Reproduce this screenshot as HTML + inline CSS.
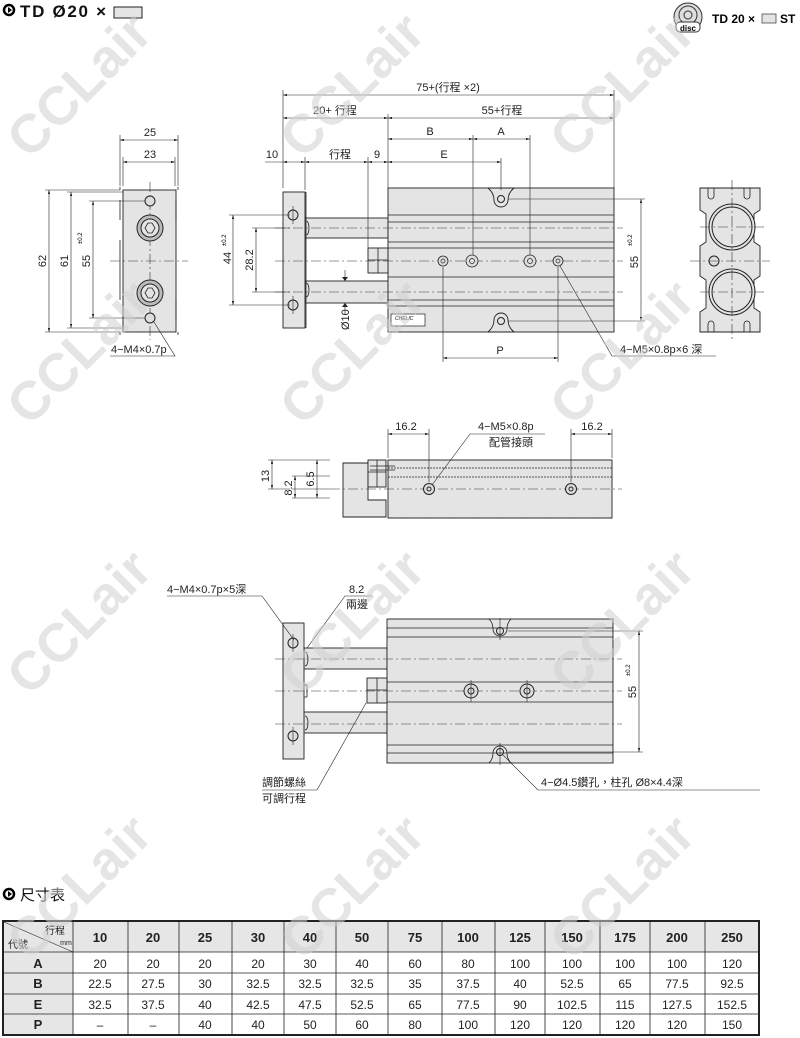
<!DOCTYPE html>
<html><head><meta charset="utf-8"><style>
body{margin:0;background:#fff;}
svg{display:block;font-family:"Liberation Sans","Noto Sans CJK TC",sans-serif;}
</style></head><body>
<svg width="800" height="1038" viewBox="0 0 800 1038" xmlns="http://www.w3.org/2000/svg">
<defs>
<marker id="a" viewBox="0 0 10 6" refX="10" refY="3" markerWidth="8" markerHeight="4" orient="auto-start-reverse"><path d="M0,0L10,3L0,6z" fill="#222"/></marker>
</defs>
<style>
.l{stroke:#222;stroke-width:0.8;fill:none}
.d{stroke:#222;stroke-width:0.6;fill:none}
.c{stroke:#333;stroke-width:0.6;fill:none;stroke-dasharray:10 3 2 3}
.b{fill:#e4e4e4;stroke:#222;stroke-width:0.9}
.t{font-size:11px;fill:#222}
.dm{stroke:#222;stroke-width:0.6;fill:none;marker-start:url(#a);marker-end:url(#a)}
</style>

<!-- header -->
<circle cx="9" cy="10" r="5" fill="none" stroke="#000" stroke-width="2.5"/>
<path d="M8,7 L12,10 L8,13z" fill="#000"/>
<text x="20" y="17" font-size="17" font-weight="bold" fill="#111" textLength="86">TD Ø20 ×</text>
<rect x="114" y="7" width="28" height="11" fill="#e4e4e4" stroke="#222"/>
<circle cx="688" cy="17" r="14" fill="#ddd" stroke="#333"/>
<circle cx="688" cy="15" r="9" fill="none" stroke="#333"/>
<circle cx="688" cy="15" r="4" fill="none" stroke="#333"/>
<rect x="676" y="22" width="24" height="10" rx="4" fill="#fff" stroke="#333"/>
<text x="688" y="31" font-size="8" text-anchor="middle" font-weight="bold">disc</text>
<text x="712" y="23" font-size="12" font-weight="bold">TD 20 ×</text>
<rect x="762" y="14" width="14" height="9" fill="#e4e4e4" stroke="#333" stroke-width="0.7"/>
<text x="780" y="23" font-size="12" font-weight="bold">ST</text>

<!-- LEFT END VIEW -->
<rect class="b" x="123" y="190" width="53" height="142"/>
<path class="l" d="M120,190v-3M178,190v-3M120,332v3M178,332v3M120,200v20M120,240v60M176,200v20M176,300v20"/>
<line class="c" x1="150" y1="182" x2="150" y2="340"/>
<line class="c" x1="110" y1="261" x2="188" y2="261"/>
<circle cx="150" cy="201" r="5" fill="#ddd" stroke="#222"/>
<circle cx="150" cy="318" r="5" fill="#ddd" stroke="#222"/>
<circle cx="150" cy="228" r="13" fill="#bbb" stroke="#222"/><circle cx="150" cy="228" r="9" fill="#e4e4e4" stroke="#222"/>
<path class="l" d="M145,228l3,-5h4l3,5l-3,5h-4z"/>
<circle cx="150" cy="293" r="13" fill="#bbb" stroke="#222"/><circle cx="150" cy="293" r="9" fill="#e4e4e4" stroke="#222"/>
<path class="l" d="M145,293l3,-5h4l3,5l-3,5h-4z"/>
<path class="d" d="M120,186V135M178,186V135M123,186V157M175,186V157"/>
<line class="dm" x1="120" y1="140" x2="178" y2="140"/>
<line class="dm" x1="123" y1="162" x2="175" y2="162"/>
<text class="t" x="150" y="136" text-anchor="middle">25</text>
<text class="t" x="150" y="158" text-anchor="middle">23</text>
<path class="d" d="M45,190H120M67,192H123M89,201H145M45,332H120M67,328H123M89,318H145"/>
<line class="dm" x1="49" y1="190" x2="49" y2="332"/>
<line class="dm" x1="71" y1="192" x2="71" y2="328"/>
<line class="dm" x1="93" y1="201" x2="93" y2="318"/>
<text class="t" transform="translate(46,261) rotate(-90)" text-anchor="middle">62</text>
<text class="t" transform="translate(68,261) rotate(-90)" text-anchor="middle">61</text>
<text class="t" transform="translate(90,261) rotate(-90)" text-anchor="middle">55</text>
<text transform="translate(82,244) rotate(-90)" font-size="6">±0.2</text>
<path class="d" d="M110,356H175L154,322"/>
<text class="t" x="111" y="353">4−M4×0.7p</text>

<!-- MAIN SIDE VIEW -->
<rect class="b" x="305" y="218" width="83" height="20"/>
<rect class="b" x="305" y="281" width="83" height="22"/>
<rect class="b" x="388" y="188" width="226" height="144"/>
<path class="l" d="M388,215H614M388,222H614M388,242H614M388,248H614M388,277H614M388,300H614M388,306H614"/>
<rect class="b" x="283" y="192" width="22" height="136"/>
<line class="l" x1="306" y1="192" x2="306" y2="328"/>
<rect class="b" x="368" y="248" width="20" height="25"/>
<path class="l" d="M378,248v25M368,260h20"/>
<path class="l" d="M306,221c4,0 4,14 0,14M306,283c4,0 4,14 0,14"/>
<line class="c" x1="275" y1="228" x2="623" y2="228"/>
<line class="c" x1="275" y1="261" x2="623" y2="261"/>
<line class="c" x1="275" y1="292" x2="623" y2="292"/>
<circle cx="293" cy="215" r="5" fill="#ddd" stroke="#222"/>
<circle cx="293" cy="305" r="5" fill="#ddd" stroke="#222"/>
<path class="d" d="M293,206v18M293,296v18"/>
<g fill="#ddd" stroke="#222" stroke-width="0.8">
<circle cx="443" cy="261" r="5"/><circle cx="472" cy="261" r="6"/><circle cx="530" cy="261" r="6"/><circle cx="558" cy="261" r="5"/>
</g>
<g fill="none" stroke="#222" stroke-width="0.7">
<circle cx="443" cy="261" r="2"/><circle cx="472" cy="261" r="2.5"/><circle cx="530" cy="261" r="2.5"/><circle cx="558" cy="261" r="2"/>
</g>
<path class="b" d="M488,188c6,5 6,10 6,12a7,7 0 0 0 14,0c0,-2 0,-7 6,-12z"/>
<circle cx="501" cy="199" r="3.5" fill="none" stroke="#222"/>
<path class="b" d="M488,332c6,-5 6,-10 6,-12a7,7 0 0 1 14,0c0,2 0,7 6,12z"/>
<circle cx="501" cy="321" r="3.5" fill="none" stroke="#222"/>
<rect x="391" y="314" width="34" height="12" fill="#fff" stroke="#222" stroke-width="0.7"/>
<text x="395" y="320" font-size="5" font-style="italic">CHELIC</text>
<path class="d" d="M283,188V90M614,188V90M388,188V114M305,190V157M368,248V157M473,255V135M530,255V135M501,190V158"/>
<line class="dm" x1="283" y1="95" x2="614" y2="95"/>
<line class="dm" x1="283" y1="118" x2="388" y2="118"/>
<line class="dm" x1="388" y1="118" x2="614" y2="118"/>
<line class="dm" x1="388" y1="139" x2="473" y2="139"/>
<line class="dm" x1="473" y1="139" x2="530" y2="139"/>
<line class="dm" x1="388" y1="162" x2="501" y2="162"/>
<line class="dm" x1="283" y1="162" x2="305" y2="162"/>
<line class="dm" x1="305" y1="162" x2="368" y2="162"/>
<line class="dm" x1="368" y1="162" x2="388" y2="162"/>
<line class="d" x1="265" y1="162" x2="283" y2="162"/>
<text class="t" x="448" y="91" text-anchor="middle">75+(行程 ×2)</text>
<text class="t" x="335" y="114" text-anchor="middle">20+ 行程</text>
<text class="t" x="502" y="114" text-anchor="middle">55+行程</text>
<text class="t" x="430" y="135" text-anchor="middle">B</text>
<text class="t" x="501" y="135" text-anchor="middle">A</text>
<text class="t" x="444" y="158" text-anchor="middle">E</text>
<text class="t" x="272" y="158" text-anchor="middle">10</text>
<text class="t" x="340" y="158" text-anchor="middle">行程</text>
<text class="t" x="377" y="158" text-anchor="middle">9</text>
<path class="d" d="M229,215H290M252,228H290M252,292H290M229,305H290"/>
<line class="dm" x1="233" y1="215" x2="233" y2="305"/>
<line class="dm" x1="256" y1="228" x2="256" y2="292"/>
<text class="t" transform="translate(231,258) rotate(-90)" text-anchor="middle">44</text>
<text transform="translate(226,246) rotate(-90)" font-size="6">±0.2</text>
<text class="t" transform="translate(253,260) rotate(-90)" text-anchor="middle">28.2</text>
<path class="d" d="M345,270v11M345,303v11"/>
<path d="M342,277L345,281L348,277z M342,307L345,303L348,307z" fill="#222"/>
<text class="t" transform="translate(349,330) rotate(-90)">Ø10</text>
<path class="d" d="M508,199H645M508,321H645"/>
<line class="dm" x1="641" y1="199" x2="641" y2="321"/>
<text class="t" transform="translate(638,262) rotate(-90)" text-anchor="middle">55</text>
<text transform="translate(632,246) rotate(-90)" font-size="6">±0.2</text>
<path class="d" d="M443,267V362M558,267V362"/>
<line class="dm" x1="443" y1="358" x2="558" y2="358"/>
<text class="t" x="500" y="354" text-anchor="middle">P</text>
<path class="d" d="M560,266L612,356H716"/>
<text class="t" x="620" y="353">4−M5×0.8p×6 深</text>

<!-- END VIEW RIGHT -->
<path class="b" d="M700,188H760V210L754,214V242L760,246V276L754,280V308L760,312V332H700V312L706,308V280L700,276V246L706,242V214L700,210Z"/>
<circle cx="732" cy="227" r="23" fill="#e4e4e4" stroke="#222"/><circle cx="732" cy="227" r="20" fill="none" stroke="#222"/>
<circle cx="732" cy="292" r="23" fill="#e4e4e4" stroke="#222"/><circle cx="732" cy="292" r="20" fill="none" stroke="#222"/>
<path class="l" d="M708,188v8a3,3 0 0 0 6,0v-8M744,188v8a3,3 0 0 0 6,0v-8M708,332v-8a3,3 0 0 1 6,0v8M744,332v-8a3,3 0 0 1 6,0v8"/>
<circle cx="714" cy="261" r="5" fill="#ddd" stroke="#222"/>
<line class="c" x1="732" y1="180" x2="732" y2="340"/>
<line class="c" x1="690" y1="261" x2="770" y2="261"/>
<line class="c" x1="700" y1="227" x2="764" y2="227"/>
<line class="c" x1="700" y1="292" x2="764" y2="292"/>

<!-- MIDDLE TOP VIEW -->
<path class="b" d="M343,463H368V500H386V517H343Z"/>
<rect class="b" x="368" y="460" width="18" height="27"/>
<path class="l" d="M377,460v27M368,472h18"/>
<rect class="b" x="388" y="460" width="224" height="58"/>
<path class="l" d="M388,468H612M388,477H612M388,518h224" stroke-dasharray="2 1"/>
<path class="l" d="M370,466H395M370,470H395" />
<line class="c" x1="330" y1="489" x2="622" y2="489"/>
<circle cx="429" cy="489" r="5.5" fill="#ddd" stroke="#222"/><circle cx="429" cy="489" r="2" fill="none" stroke="#222"/>
<circle cx="571" cy="489" r="5.5" fill="#ddd" stroke="#222"/><circle cx="571" cy="489" r="2" fill="none" stroke="#222"/>
<path class="d" d="M388,458V429M429,482V429M571,482V429M612,458V429"/>
<line class="dm" x1="388" y1="434" x2="429" y2="434"/>
<line class="dm" x1="571" y1="434" x2="612" y2="434"/>
<text class="t" x="406" y="430" text-anchor="middle">16.2</text>
<text class="t" x="592" y="430" text-anchor="middle">16.2</text>
<path class="d" d="M432,485L470,434H545"/>
<text class="t" x="478" y="430">4−M5×0.8p</text>
<text class="t" x="489" y="446">配管接頭</text>
<path class="d" d="M268,460H330M292,476H330M292,489H330M268,489H290M292,498H330"/>
<line class="dm" x1="272" y1="460" x2="272" y2="489"/>
<line class="dm" x1="295" y1="476" x2="295" y2="498"/>
<line class="dm" x1="317" y1="460" x2="317" y2="498"/>
<text class="t" transform="translate(269,476) rotate(-90)" text-anchor="middle">13</text>
<text class="t" transform="translate(292,488) rotate(-90)" text-anchor="middle">8.2</text>
<text class="t" transform="translate(314,479) rotate(-90)" text-anchor="middle">6.5</text>

<!-- BOTTOM VIEW -->
<rect class="b" x="304" y="648" width="83" height="21"/>
<rect class="b" x="304" y="712" width="83" height="21"/>
<rect class="b" x="387" y="619" width="226" height="144"/>
<path class="l" d="M387,628H613M387,637H613M387,682H613M387,702H613M387,745H613M387,753H613"/>
<rect class="b" x="283" y="623" width="21" height="136"/>
<rect class="b" x="367" y="678" width="20" height="25"/>
<path class="l" d="M377,678v25M367,690h20M304,685h3v12h-3"/>
<path class="l" d="M305,652c4,0 4,14 0,14M305,716c4,0 4,14 0,14"/>
<line class="c" x1="275" y1="659" x2="622" y2="659"/>
<line class="c" x1="275" y1="691" x2="622" y2="691"/>
<line class="c" x1="275" y1="724" x2="622" y2="724"/>
<circle cx="293" cy="643" r="5" fill="#ddd" stroke="#222"/>
<circle cx="293" cy="736" r="5" fill="#ddd" stroke="#222"/>
<path class="d" d="M293,634v18M293,727v18"/>
<circle cx="471" cy="691" r="7" fill="#ddd" stroke="#222"/><circle cx="471" cy="691" r="3" fill="none" stroke="#222"/>
<circle cx="527" cy="691" r="7" fill="#ddd" stroke="#222"/><circle cx="527" cy="691" r="3" fill="none" stroke="#222"/>
<path class="d" d="M471,680v22M527,680v22M500,618v22M500,743v22"/>
<path class="l" d="M489,619c4,4 4,8 4,10a7,7 0 0 0 14,0c0,-2 0,-6 4,-10M489,763c4,-4 4,-8 4,-10a7,7 0 0 1 14,0c0,2 0,6 4,10"/>
<circle cx="500" cy="631" r="3.5" fill="none" stroke="#222"/>
<circle cx="500" cy="752" r="3.5" fill="none" stroke="#222"/>
<path class="d" d="M508,631H643M508,752H643"/>
<line class="dm" x1="639" y1="631" x2="639" y2="752"/>
<text class="t" transform="translate(636,692) rotate(-90)" text-anchor="middle">55</text>
<text transform="translate(630,676) rotate(-90)" font-size="6">±0.2</text>
<path class="d" d="M167,596H262L294,640"/>
<text class="t" x="167" y="593">4−M4×0.7p×5深</text>
<path class="d" d="M307,648L345,596H372"/>
<text class="t" x="349" y="593">8.2</text>
<text class="t" x="346" y="608">兩邊</text>
<path class="d" d="M262,790H317L366,703"/>
<text class="t" x="262" y="786">調節螺絲</text>
<text class="t" x="262" y="802">可調行程</text>
<path class="d" d="M503,755L538,790H760"/>
<text class="t" x="541" y="786">4−Ø4.5鑽孔，柱孔 Ø8×4.4深</text>

<!-- TABLE TITLE -->
<circle cx="9" cy="894" r="5" fill="none" stroke="#000" stroke-width="2.5"/>
<path d="M8,891 L12,894 L8,897z" fill="#000"/>
<text x="20" y="900" font-size="15" fill="#111">尺寸表</text>

<!-- TABLE -->
<g font-size="12" text-anchor="middle" fill="#222">
<rect x="3" y="921" width="756" height="114" fill="#fff" stroke="#222" stroke-width="2"/>
<rect x="4" y="922" width="754" height="30" fill="#e6e6e6"/>
<g fill="#e6e6e6"><rect x="4" y="952" width="69" height="82"/></g>
<path class="l" d="M3,952H759M3,973H759M3,994H759M3,1014H759"/>
<path class="l" d="M73,921V1035M128,921V1035M179,921V1035M232,921V1035M284,921V1035M336,921V1035M388,921V1035M442,921V1035M495,921V1035M545,921V1035M600,921V1035M650,921V1035M705,921V1035"/>
<path class="d" d="M4,922L73,952"/>
<text x="55" y="934" font-size="10">行程</text>
<text x="66" y="945" font-size="7">mm</text>
<text x="18" y="948" font-size="10">代號</text>
<g font-weight="bold" font-size="13">
<text x="100" y="942">10</text><text x="153" y="942">20</text><text x="205" y="942">25</text><text x="258" y="942">30</text><text x="310" y="942">40</text><text x="362" y="942">50</text><text x="415" y="942">75</text><text x="468" y="942">100</text><text x="520" y="942">125</text><text x="572" y="942">150</text><text x="625" y="942">175</text><text x="677" y="942">200</text><text x="732" y="942">250</text>
<text x="38" y="968">A</text><text x="38" y="988">B</text><text x="38" y="1009">E</text><text x="38" y="1029">P</text>
</g>
<g>
<text x="100" y="968">20</text><text x="153" y="968">20</text><text x="205" y="968">20</text><text x="258" y="968">20</text><text x="310" y="968">30</text><text x="362" y="968">40</text><text x="415" y="968">60</text><text x="468" y="968">80</text><text x="520" y="968">100</text><text x="572" y="968">100</text><text x="625" y="968">100</text><text x="677" y="968">100</text><text x="732" y="968">120</text>
<text x="100" y="988">22.5</text><text x="153" y="988">27.5</text><text x="205" y="988">30</text><text x="258" y="988">32.5</text><text x="310" y="988">32.5</text><text x="362" y="988">32.5</text><text x="415" y="988">35</text><text x="468" y="988">37.5</text><text x="520" y="988">40</text><text x="572" y="988">52.5</text><text x="625" y="988">65</text><text x="677" y="988">77.5</text><text x="732" y="988">92.5</text>
<text x="100" y="1009">32.5</text><text x="153" y="1009">37.5</text><text x="205" y="1009">40</text><text x="258" y="1009">42.5</text><text x="310" y="1009">47.5</text><text x="362" y="1009">52.5</text><text x="415" y="1009">65</text><text x="468" y="1009">77.5</text><text x="520" y="1009">90</text><text x="572" y="1009">102.5</text><text x="625" y="1009">115</text><text x="677" y="1009">127.5</text><text x="732" y="1009">152.5</text>
<text x="100" y="1029">–</text><text x="153" y="1029">–</text><text x="205" y="1029">40</text><text x="258" y="1029">40</text><text x="310" y="1029">50</text><text x="362" y="1029">60</text><text x="415" y="1029">80</text><text x="468" y="1029">100</text><text x="520" y="1029">120</text><text x="572" y="1029">120</text><text x="625" y="1029">120</text><text x="677" y="1029">120</text><text x="732" y="1029">150</text>
</g>
</g>

<!-- WATERMARKS -->
<g font-size="54" font-weight="bold" fill="#cfcfcf" opacity="0.55" text-anchor="middle">
<text transform="translate(92,98) rotate(-45)">CCLair</text>
<text transform="translate(365,98) rotate(-45)">CCLair</text>
<text transform="translate(635,98) rotate(-45)">CCLair</text>
<text transform="translate(92,365) rotate(-45)">CCLair</text>
<text transform="translate(365,365) rotate(-45)">CCLair</text>
<text transform="translate(635,365) rotate(-45)">CCLair</text>
<text transform="translate(92,635) rotate(-45)">CCLair</text>
<text transform="translate(365,635) rotate(-45)">CCLair</text>
<text transform="translate(635,635) rotate(-45)">CCLair</text>
<text transform="translate(92,900) rotate(-45)">CCLair</text>
<text transform="translate(365,900) rotate(-45)">CCLair</text>
<text transform="translate(635,900) rotate(-45)">CCLair</text>
</g>
</svg>
</body></html>
